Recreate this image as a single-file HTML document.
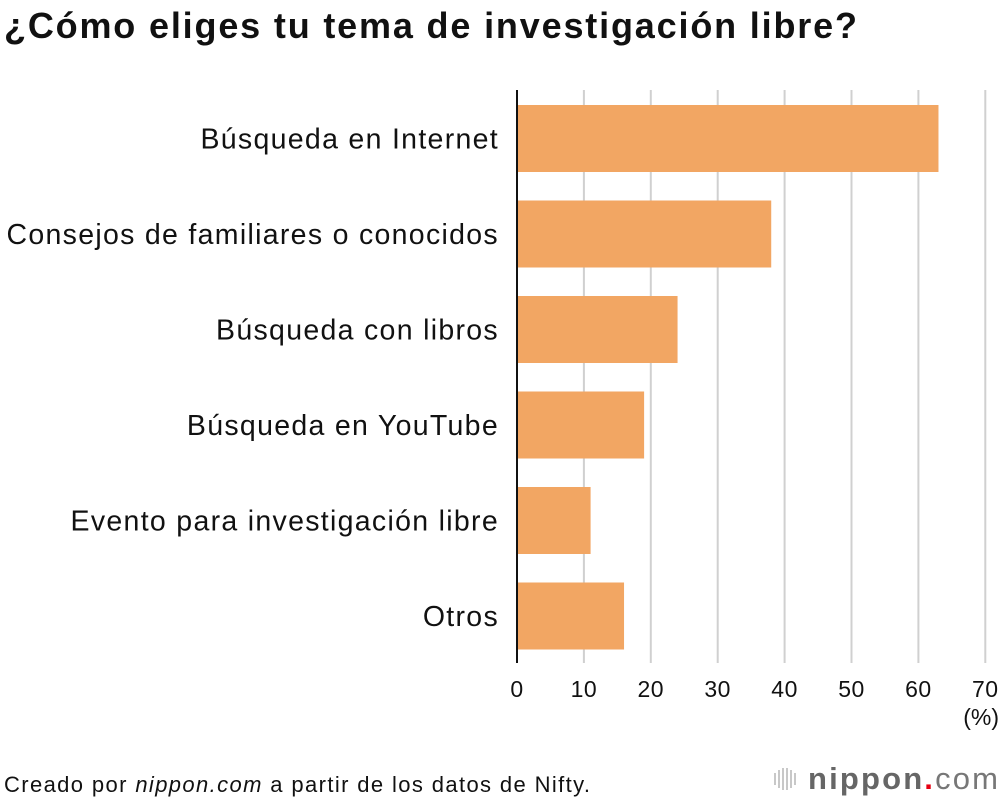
<!DOCTYPE html>
<html><head><meta charset="utf-8"><style>
body{margin:0;background:#fff;width:1000px;height:802px;overflow:hidden;font-family:"Liberation Sans",sans-serif;}
svg{display:block}
</style></head><body>
<svg id="c" width="1000" height="802">
<text x="4" y="38" font-size="36" font-weight="bold" fill="#111" textLength="853" lengthAdjust="spacing">¿Cómo eliges tu tema de investigación libre?</text>
<g id="grid"></g><g id="bars"></g><g id="labels"></g><g id="ticks"></g>
<text x="999" y="725" font-size="23" text-anchor="end" fill="#111">(%)</text>
<text x="4" y="792" font-size="22" fill="#111" textLength="586" lengthAdjust="spacing">Creado por <tspan font-style="italic">nippon.com</tspan> a partir de los datos de Nifty.</text>
<g>
<g stroke="#bbb" stroke-width="1.6">
<line x1="775" y1="773" x2="775" y2="785"/><line x1="779" y1="770" x2="779" y2="788"/><line x1="783" y1="768" x2="783" y2="790"/><line x1="787" y1="768" x2="787" y2="790"/><line x1="791" y1="770" x2="791" y2="788"/><line x1="795" y1="773" x2="795" y2="785"/></g>
<text x="808" y="789" font-size="31" font-weight="bold" fill="#666" textLength="190" lengthAdjust="spacing">nippon<tspan fill="#e60012">.</tspan><tspan font-weight="normal" fill="#777">com</tspan></text>
</g>
</svg>
<script>
const categories=["Búsqueda en Internet","Consejos de familiares o conocidos","Búsqueda con libros","Búsqueda en YouTube","Evento para investigación libre","Otros"];
const values=[63,38,24,19,11,16];
const ticks=[0,10,20,30,40,50,60,70];
const NS="http://www.w3.org/2000/svg";
const x0=517,xs=66.9/10,top0=105,step=95.5,bh=67;
const xf=v=>x0+v*xs, yf=i=>top0+i*step;
function mk(t,a,p){const e=document.createElementNS(NS,t);for(const k in a)e.setAttribute(k,a[k]);p.appendChild(e);return e;}
const g=document.getElementById('grid'),b=document.getElementById('bars'),l=document.getElementById('labels'),tk=document.getElementById('ticks');
ticks.forEach(t=>{if(t===0)return;const ln=mk('line',{x1:xf(t),x2:xf(t),y1:90,y2:663,stroke:'#d0d0d0','stroke-width':2},g);

});
categories.forEach((c,i)=>{const r=mk('rect',{x:x0,y:yf(i),width:xf(values[i])-x0,height:bh,fill:'#f2a663'},b);


const t=mk('text',{x:499,y:yf(i)+bh/2+10,'font-size':28.5,'letter-spacing':1.3,'text-anchor':'end',fill:'#111'},l);t.textContent=c;

});
const ax=mk('line',{x1:x0,x2:x0,y1:90,y2:663,stroke:'#111','stroke-width':2},tk);


ticks.forEach(t=>{const e=mk('text',{x:xf(t),y:697,'font-size':23,'letter-spacing':0.5,'text-anchor':'middle',fill:'#111'},tk);e.textContent=t;

});
</script>
</body></html>
